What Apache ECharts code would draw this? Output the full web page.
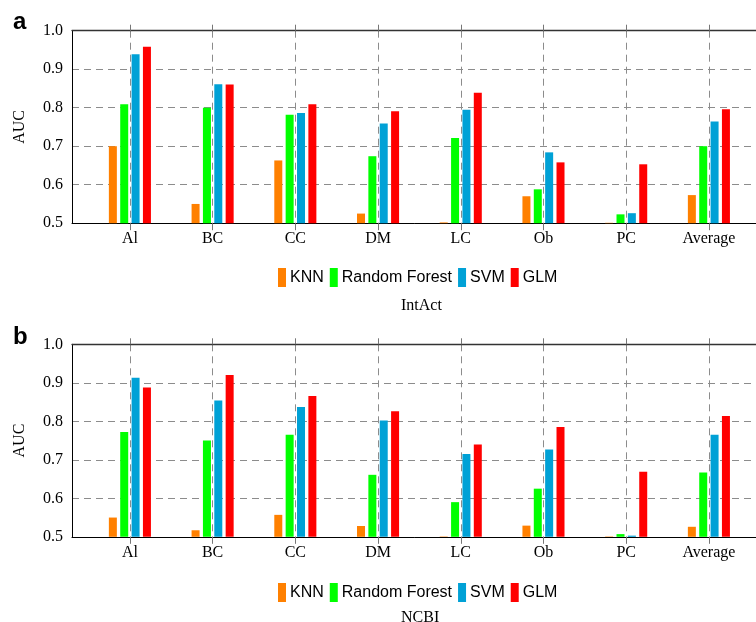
<!DOCTYPE html>
<html><head><meta charset="utf-8">
<script src="https://cdn.jsdelivr.net/npm/echarts@6/dist/echarts.min.js"></script>
<style>html,body{margin:0;padding:0;background:#fff}#c{width:756px;height:622px}</style>
</head><body><div id="c"></div>
<script>
const categories = ['Al','BC','CC','DM','LC','Ob','PC','Average'];
const methods = ['KNN','Random Forest','SVM','GLM'];
const colors = ['#ff8000','#00ff00','#00a1d6','#ff0000'];
const panelTitles = ['IntAct','NCBI'];
const panelLetters = ['a','b'];
const intactKNN = [0.700,0.550,0.663,0.525,0.502,0.570,0.501,0.573];
const intactRF  = [0.809,0.800,0.782,0.674,0.721,0.588,0.523,0.700];
const intactSVM = [0.939,0.861,0.786,0.759,0.795,0.684,0.526,0.764];
const intactGLM = [0.958,0.860,0.809,0.791,0.839,0.658,0.653,0.796];
const ncbiKNN = [0.550,0.517,0.557,0.528,0.501,0.529,0.501,0.526];
const ncbiRF  = [0.772,0.750,0.765,0.661,0.590,0.625,0.507,0.667];
const ncbiSVM = [0.913,0.854,0.837,0.802,0.715,0.727,0.503,0.765];
const ncbiGLM = [0.888,0.920,0.866,0.826,0.740,0.785,0.669,0.814];

const panels = [[intactKNN,intactRF,intactSVM,intactGLM],[ncbiKNN,ncbiRF,ncbiSVM,ncbiGLM]];
const positions = categories.map((c,i)=>i+1);
const serif = '"Liberation Serif","Times New Roman",serif';
const sans = '"Liberation Sans",Arial,sans-serif';
const gridTops = [30.7, 344.3];
const gridH = 192.5;
const legendTops = [263, 578];
const titleTops = [293, 605];
const letterTops = [5, 320];

const chart = echarts.init(document.getElementById('c'), null, {renderer:'canvas'});
const grid = [], xAxis = [], yAxis = [], series = [], legend = [], title = [];
panels.forEach((vals, p) => {
  grid.push({left:72, width:694.8, top:gridTops[p], height:gridH, containLabel:false, outerBoundsMode:'none'});
  xAxis.push({
    type:'value', gridIndex:p, min:0.3, max:8.7, position:'bottom',
    axisLine:{show:true, onZero:false, lineStyle:{color:'#000', width:1}},
    axisTick:{show:true, customValues:positions, length:7, lineStyle:{color:'#777', width:1}},
    axisLabel:{show:true, customValues:positions, margin:8, color:'#000', fontFamily:serif, fontSize:16,
      formatter:(v)=>categories[Math.round(v)-1] || ''},
    splitLine:{show:true, customValues:positions, lineStyle:{color:'#8c8c8c', type:[7,5], width:1}}
  });
  xAxis.push({
    type:'value', gridIndex:p, min:0.3, max:8.7, position:'top',
    axisLine:{show:true, onZero:false, lineStyle:{color:'#333', width:1.3}},
    axisTick:{show:true, customValues:positions, length:9, lineStyle:{color:'#777', width:1, type:[6,4]}},
    axisLabel:{show:false}, splitLine:{show:false}
  });
  yAxis.push({
    type:'value', gridIndex:p, min:0.5, max:1.0, interval:0.1,
    name:'AUC', nameLocation:'middle', nameGap:44,
    nameTextStyle:{fontFamily:serif, fontSize:16, color:'#000'},
    axisLine:{show:true, lineStyle:{color:'#000', width:1}},
    axisTick:{show:false},
    axisLabel:{color:'#000', fontFamily:serif, fontSize:16, margin:9, formatter:(v)=>v.toFixed(1)},
    splitLine:{show:true, lineStyle:{color:'#8c8c8c', type:[7,5], width:1}}
  });
  methods.forEach((m, k) => {
    series.push({
      type:'bar', name:m, xAxisIndex:p*2, yAxisIndex:p,
      data: vals[k].map((v,i)=>[positions[i], v]),
      barWidth:8, barGap:'42%',
      itemStyle:{color:colors[k]}
    });
  });
  legend.push({
    data:methods, left:273, top:legendTops[p], itemWidth:8, itemHeight:19, itemGap:6,
    icon:'rect', textStyle:{fontFamily:sans, fontSize:16, color:'#000', padding:[0,0,0,-1]}
  });
  title.push({text:panelTitles[p], left:396, top:titleTops[p],
    textStyle:{fontFamily:serif, fontSize:16, fontWeight:'normal', color:'#000'}});
  title.push({text:panelLetters[p], left:8, top:letterTops[p],
    textStyle:{fontFamily:sans, fontSize:24, fontWeight:'bold', color:'#000'}});
});
chart.setOption({animation:false, backgroundColor:'#fff', grid, xAxis, yAxis, series, legend, title});
</script></body></html>
